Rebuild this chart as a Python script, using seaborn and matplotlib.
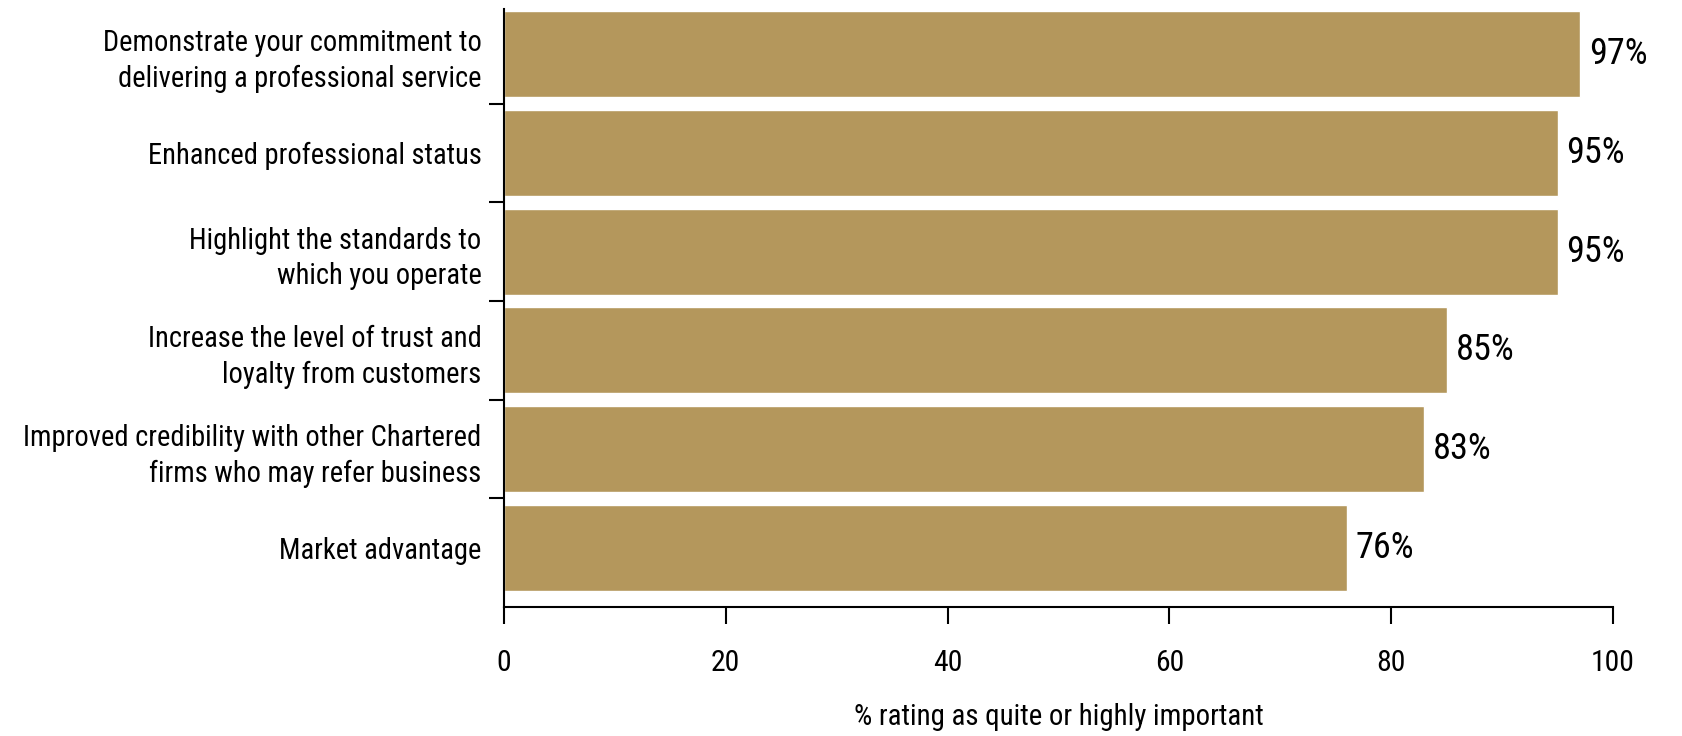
import matplotlib
matplotlib.use("Agg")
import matplotlib.pyplot as plt
from matplotlib import font_manager as fm
import seaborn as sns
import pandas as pd

# Survey results: share rating each benefit as quite or highly important
categories = [
    "Demonstrate your commitment to\ndelivering a professional service",
    "Enhanced professional status",
    "Highlight the standards to\nwhich you operate",
    "Increase the level of trust and\nloyalty from customers",
    "Improved credibility with other Chartered\nfirms who may refer business",
    "Market advantage",
]
values = [97, 95, 95, 85, 83, 76]
x_ticks = [0, 20, 40, 60, 80, 100]
x_label = "% rating as quite or highly important"

# Prefer a narrow sans face; fall back to condensed DejaVu
installed = {f.name for f in fm.fontManager.ttflist}
family, stretch = None, "normal"
for cand in ["Liberation Sans Narrow", "Roboto Condensed", "Open Sans Condensed", "Arial Narrow"]:
    if cand in installed:
        family = cand
        break
if family is None:
    family = "DejaVu Sans"
    if any(f.name == "DejaVu Sans" and "condensed" in str(f.stretch) for f in fm.fontManager.ttflist):
        stretch = "condensed"

sns.set_style("ticks")
plt.rcParams["font.family"] = [family, "DejaVu Sans"]
plt.rcParams["font.stretch"] = stretch
plt.rcParams["text.color"] = "black"
plt.rcParams["xtick.color"] = "black"
plt.rcParams["ytick.color"] = "black"
plt.rcParams["axes.labelcolor"] = "black"

df = pd.DataFrame({"category": categories, "value": values})

fig = plt.figure(figsize=(16.82, 7.36), dpi=100)
ax = fig.add_axes([0.2996, 0.1753, 0.959 - 0.2996, 0.9878 - 0.1753])

sns.barplot(data=df, y="category", x="value", orient="h", color="#B4975C",
            saturation=1, width=0.87, ax=ax)

base_label, base_tick, base_value = 23.0, 22.5, 26.0

value_texts = []
for i, v in enumerate(values):
    value_texts.append(ax.text(v + 0.8, i, f"{v}%", va="center", ha="left",
                               fontsize=base_value, color="black"))

ax.set_xlim(0, 100)
ax.set_ylim(5.6, -0.46)
ax.set_xticks(x_ticks)
ax.set_xticklabels([str(t) for t in x_ticks], fontsize=base_tick)
ax.set_xlabel(x_label, fontsize=base_tick, labelpad=19)
ax.set_ylabel("")

ax.tick_params(axis="x", length=12, width=1.5, pad=18, color="black")
ax.tick_params(axis="y", which="major", length=0, pad=16, labelsize=base_label)
ax.set_yticks([0.5, 1.5, 2.5, 3.5, 4.5], minor=True)
ax.tick_params(axis="y", which="minor", length=11, width=1.5, color="black")
for t in ax.get_yticklabels():
    t.set_linespacing(1.35)

for side in ("top", "right"):
    ax.spines[side].set_visible(False)
for side in ("left", "bottom"):
    ax.spines[side].set_linewidth(1.5)
    ax.spines[side].set_color("black")


def fit_width(texts, base, target):
    """Cap a group of texts so its widest member is no wider than target pixels."""
    fig.canvas.draw()
    renderer = fig.canvas.get_renderer()
    widest = max(t.get_window_extent(renderer).width for t in texts)
    if widest > target:
        for t in texts:
            t.set_fontsize(base * target / widest)


fit_width(ax.get_yticklabels(), base_label, 460.0)
fit_width(ax.get_xticklabels(), base_tick, 44.0)
fit_width([ax.xaxis.label], base_tick, 410.0)
fit_width(value_texts, base_value, 62.0)

fig.savefig("out.png", dpi=100)
